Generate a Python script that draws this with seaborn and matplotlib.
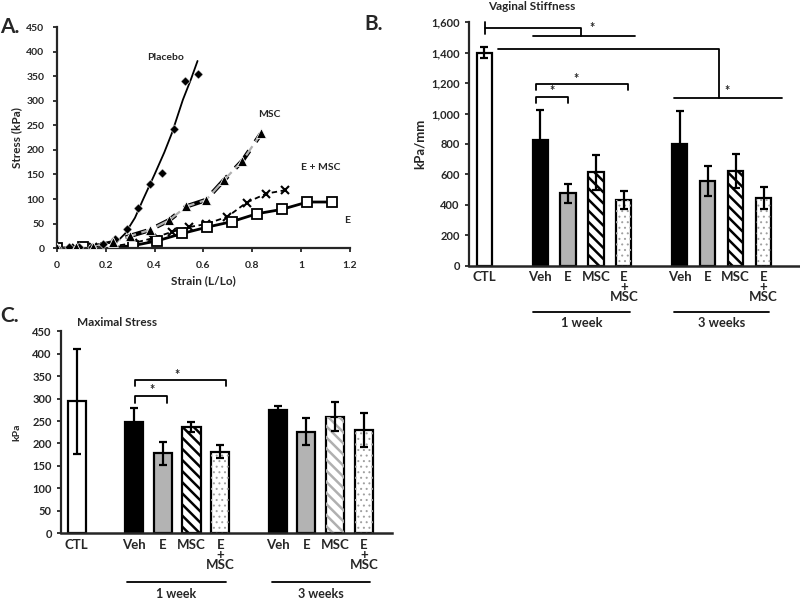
import numpy as np
import pandas as pd
import matplotlib
matplotlib.use("Agg")
import matplotlib.pyplot as plt
from matplotlib.ticker import FuncFormatter
import seaborn as sns

# ---- Panel A: stress-strain curves ----
placebo_x = [0, 0.05, 0.09, 0.146, 0.19, 0.237, 0.286, 0.333, 0.383, 0.431, 0.478, 0.526, 0.576]
placebo_y = [0, 2, 2, 3, 8, 18, 40, 81, 130, 153, 242, 340, 355]
placebo_fit_x = [0.18, 0.2, 0.24, 0.28, 0.32, 0.352, 0.40, 0.44, 0.471, 0.516, 0.55, 0.576]
placebo_fit_y = [0, 1, 10, 30, 62, 98, 150, 195, 234, 302, 345, 381]
msc_x = [0, 0.08, 0.15, 0.23, 0.30, 0.38, 0.46, 0.53, 0.61, 0.685, 0.76, 0.837]
msc_y = [0, 2, 3, 12, 25, 37, 57, 85, 98, 139, 178, 234]
emsc_x = [0, 0.08, 0.15, 0.23, 0.31, 0.39, 0.47, 0.54, 0.61, 0.698, 0.777, 0.857, 0.934]
emsc_y = [0, 1, 2, 4, 10, 20, 33, 43, 49, 64, 93, 111, 118]
e_x = [0, 0.106, 0.2, 0.31, 0.411, 0.514, 0.616, 0.716, 0.818, 0.921, 1.026, 1.126]
e_y = [0, 2, 0, 5, 15, 30, 43, 54, 70, 79, 94, 94]

# ---- Panels B and C: bar data ----
conditions = ["Veh", "E", "MSC", "EMSC"]
cond_labels = ["Veh", "E", "MSC", "E\n+\nMSC"]

stiff_ctl, stiff_ctl_err = 1400, 37
stiff_1wk = [829, 475, 613, 429]
stiff_1wk_err = [197, 63, 116, 59]
stiff_3wk = [799, 556, 624, 446]
stiff_3wk_err = [217, 101, 111, 73]

stress_ctl, stress_ctl_err = 294, 117
stress_1wk = [248, 178, 236, 182]
stress_1wk_err = [30, 25, 11, 15]
stress_3wk = [275, 226, 260, 230]
stress_3wk_err = [9, 30, 32, 37]

order = ["CTL", "gap1"] + [c + " 1" for c in conditions] + ["gap2"] + [c + " 3" for c in conditions]

sns.set_theme(style="ticks")
plt.rcParams["font.family"] = ["Lato", "DejaVu Sans"]
plt.rcParams["font.weight"] = "bold"
plt.rcParams["axes.labelweight"] = "bold"
plt.rcParams["hatch.linewidth"] = 1.8

fig = plt.figure(figsize=(8, 6.01), dpi=100)
axA = fig.add_axes([0.071, 0.587, 0.3665, 0.368])
axB = fig.add_axes([0.586, 0.558, 0.413, 0.405])
axC = fig.add_axes([0.076, 0.1126, 0.414, 0.3364])

# ---------------- Panel A ----------------
sns.lineplot(x=placebo_fit_x, y=placebo_fit_y, color="black", lw=1.3, ax=axA)
sns.scatterplot(x=placebo_x, y=placebo_y, marker="D", s=22, color="black", ax=axA, zorder=4)
sns.lineplot(x=msc_x[2:], y=msc_y[2:], color="black", lw=3.2, ax=axA,
             linestyle=(0, (5, 2.5)))
sns.lineplot(x=msc_x[2:], y=msc_y[2:], color="#b0b0b0", lw=1.6, ax=axA,
             linestyle=(0, (5, 2.5)))
sns.scatterplot(x=msc_x, y=msc_y, marker="^", s=50, color="black", ax=axA, zorder=4)
sns.lineplot(x=emsc_x, y=emsc_y, color="black", lw=1.3, linestyle=(0, (3, 2)),
             marker="x", markersize=6, markeredgewidth=1.5, markeredgecolor="black", ax=axA)
sns.lineplot(x=e_x, y=e_y, color="black", lw=2.0, marker="s", markersize=7,
             markerfacecolor="white", markeredgecolor="black", markeredgewidth=1.3, ax=axA)

axA.set_xlim(0, 1.2)
axA.set_ylim(0, 450)
axA.set_xticks([0, 0.2, 0.4, 0.6, 0.8, 1.0, 1.2])
axA.set_xticklabels(["0", "0.2", "0.4", "0.6", "0.8", "1", "1.2"])
axA.set_yticks(range(0, 451, 50))
axA.tick_params(labelsize=7.5, length=3, width=1.3, pad=6)
axA.set_xlabel("Strain (L/Lo)", fontsize=8.5, labelpad=4)
axA.set_ylabel("Stress (kPa)", fontsize=8.5, labelpad=3)
for s in ["left", "bottom"]:
    axA.spines[s].set_linewidth(1.6)
sns.despine(ax=axA)
axA.text(0.447, 389, "Placebo", fontsize=7.5, ha="center", va="center")
axA.text(0.869, 273, "MSC", fontsize=7.5, ha="center", va="center")
axA.text(1.078, 165, "E + MSC", fontsize=7.5, ha="center", va="center", clip_on=False)
axA.text(1.19, 57, "E", fontsize=7.5, ha="center", va="center", clip_on=False)
fig.text(0.0, 0.955, "A.", fontsize=15, fontweight="bold", va="center")


# ---------------- bar helper ----------------
def draw_bars(ax, ctl, wk1, wk3, ctl_err, err1, err3, width, msc3_color):
    keys = ["CTL"] + [c + " 1" for c in conditions] + [c + " 3" for c in conditions]
    vals = [ctl] + wk1 + wk3
    errs = [ctl_err] + err1 + err3
    df = pd.DataFrame({"key": keys, "value": vals})
    sns.barplot(data=df, x="key", y="value", order=order, width=width, color="white",
                edgecolor="black", linewidth=1.6, errorbar=None, ax=ax, saturation=1)
    for p in list(ax.patches):
        idx = int(round(p.get_x() + p.get_width() / 2))
        key = order[idx]
        cond = key.split()[0]
        val = vals[keys.index(key)]
        if cond == "Veh":
            p.set_facecolor("black")
        elif cond == "E":
            p.set_facecolor("#b3b3b3")
        elif cond == "MSC":
            p.set_facecolor("white")
            hcol = msc3_color if key.endswith("3") else "black"
            ax.bar([idx], [val], width=width, fill=False, edgecolor=hcol, hatch="\\\\\\",
                   linewidth=0, zorder=p.get_zorder() + 0.1)
        elif cond == "EMSC":
            p.set_facecolor("white")
            dots = ax.bar([idx], [val], width=width, fill=False, edgecolor="#a0a0a0",
                          hatch="...", linewidth=0, zorder=p.get_zorder() + 0.1)
            for d in dots:
                if hasattr(d, "set_hatch_linewidth"):
                    d.set_hatch_linewidth(0.7)
    xs = [order.index(k) for k in keys]
    ax.errorbar(xs, vals, yerr=errs, fmt="none", ecolor="black", elinewidth=1.6,
                capsize=3, capthick=1.6, zorder=6)
    ax.set_xticks(xs)
    ax.set_xticklabels(["CTL"] + cond_labels + cond_labels)
    ax.set_xlabel("")
    sns.despine(ax=ax)
    ax.spines["left"].set_linewidth(1.6)
    ax.spines["bottom"].set_linewidth(1.8)
    ax.tick_params(axis="x", length=0, pad=4)
    for t in ax.get_xticklabels():
        t.set_linespacing(0.8)


def bracket(ax, x0, x1, y, drop):
    ax.plot([x0, x0, x1, x1], [y - drop, y, y, y - drop], color="black", lw=1.3, clip_on=False)


def week_labels(ax, yline, ytext, fs):
    tr = ax.get_xaxis_transform()
    for lo, hi, lab in [(1.75, 5.2, "1 week"), (6.8, 10.2, "3 weeks")]:
        ax.plot([lo, hi], [yline, yline], color="black", lw=1.3, transform=tr, clip_on=False)
        ax.text((lo + hi) / 2, ytext, lab, transform=tr, ha="center", va="center", fontsize=fs)


# ---------------- Panel B ----------------
draw_bars(axB, stiff_ctl, stiff_1wk, stiff_3wk, stiff_ctl_err, stiff_1wk_err, stiff_3wk_err,
          0.54, "black")
axB.set_xlim(-0.55, 11.27)
axB.set_ylim(0, 1600)
axB.set_yticks(range(0, 1601, 200))
axB.yaxis.set_major_formatter(FuncFormatter(lambda v, _: f"{v:,.0f}"))
axB.tick_params(axis="y", labelsize=8, length=3, width=1.3)
axB.tick_params(axis="x", labelsize=9.5)
axB.set_ylabel("kPa/mm", fontsize=9.5, labelpad=4)
fig.text(531.7 / 800, 1 - 6 / 601, "Vaginal Stiffness", fontsize=8.5, fontweight="bold",
         ha="center", va="center")

axB.plot([0.02, 0.02], [1525, 1600], color="black", lw=1.3, clip_on=False)
axB.plot([0.02, 3.45, 3.45], [1560, 1560, 1508], color="black", lw=1.3, clip_on=False)
axB.plot([1.74, 5.41], [1508, 1508], color="black", lw=1.3, clip_on=False)
axB.text(3.86, 1565, "*", ha="center", va="center", fontsize=9)
axB.plot([0.48, 8.39, 8.39], [1423, 1423, 1103], color="black", lw=1.3)
axB.plot([6.78, 10.65], [1103, 1103], color="black", lw=1.3)
axB.text(8.7, 1148, "*", ha="center", va="center", fontsize=9)
bracket(axB, 1.86, 5.15, 1197, 44)
axB.text(3.29, 1230, "*", ha="center", va="center", fontsize=9)
bracket(axB, 1.86, 2.99, 1107, 41)
axB.text(2.43, 1145, "*", ha="center", va="center", fontsize=9)
week_labels(axB, -0.189, -0.235, 9.3)
fig.text(0.455, 0.96, "B.", fontsize=15, fontweight="bold", va="center")

# ---------------- Panel C ----------------
draw_bars(axC, stress_ctl, stress_1wk, stress_3wk, stress_ctl_err, stress_1wk_err,
          stress_3wk_err, 0.63, "#b0b0b0")
axC.set_xlim(-0.55, 10.98)
axC.set_ylim(0, 450)
axC.set_yticks(range(0, 451, 50))
axC.tick_params(axis="y", labelsize=8, length=3, width=1.3)
axC.tick_params(axis="x", labelsize=9.5)
axC.set_ylabel("kPa", fontsize=7.5, labelpad=8)
fig.text(117 / 800, 1 - 322 / 601, "Maximal Stress", fontsize=8.5, fontweight="bold",
         ha="center", va="center")
bracket(axC, 2.03, 5.2, 341, 13)
axC.text(3.48, 352, "*", ha="center", va="center", fontsize=9)
bracket(axC, 2.03, 3.13, 306, 15)
axC.text(2.64, 318, "*", ha="center", va="center", fontsize=9)
week_labels(axC, -0.241, -0.298, 9.0)
fig.text(0.0, 0.475, "C.", fontsize=15, fontweight="bold", va="center")

fig.savefig("out.png", dpi=100)
